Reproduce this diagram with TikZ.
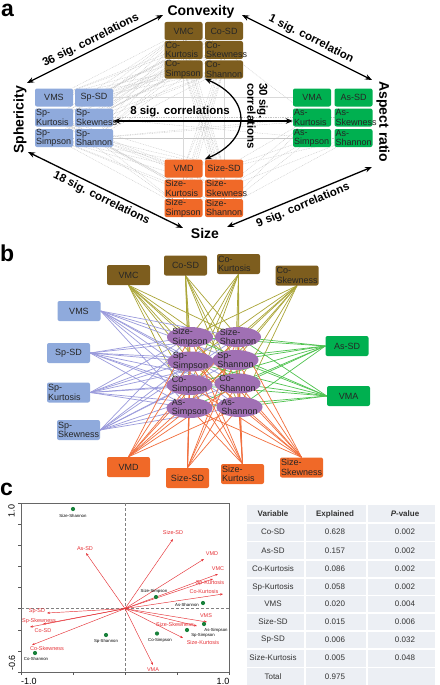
\documentclass[tikz,border=0pt]{standalone}
\usepackage{fontspec}
\setmainfont{Liberation Sans}
\usetikzlibrary{arrows.meta,shapes.geometric,backgrounds}
\definecolor{cbrown}{RGB}{125,93,30}
\definecolor{cblue}{RGB}{143,170,220}
\definecolor{cgreen}{RGB}{0,176,80}
\definecolor{corange}{RGB}{240,105,40}
\definecolor{cpurple}{RGB}{160,112,180}
\definecolor{lolive}{RGB}{170,165,55}
\definecolor{lblue}{RGB}{155,155,220}
\definecolor{lgreen}{RGB}{80,195,80}
\definecolor{lorange}{RGB}{242,110,60}
\definecolor{cred}{RGB}{230,50,55}
\definecolor{cdot}{RGB}{25,130,60}
\definecolor{tabbg}{RGB}{236,239,244}
\tikzset{
 abox/.style={rounded corners=2pt, text width=36pt, inner xsep=1pt, inner ysep=0pt, minimum height=18pt, font=\fontsize{9}{9.5}\selectfont, text=black!85},
 one/.style={align=center},
 two/.style={align=left},
 bbox/.style={abox, text width=41pt, minimum height=20pt},
 ell/.style={ellipse, fill=cpurple, minimum width=46pt, minimum height=20pt, inner sep=0pt},
 etxt/.style={font=\fontsize{9}{9.5}\selectfont, align=left, text=black!85, inner sep=0pt},
 bigarrow/.style={line width=1.3pt, {Stealth[length=7pt,width=5.5pt]}-{Stealth[length=7pt,width=5.5pt]}},
 cat/.style={font=\fontsize{14}{16}\selectfont\bfseries},
 sig/.style={font=\fontsize{11.5}{12}\selectfont\bfseries},
 plet/.style={font=\fontsize{23}{24}\selectfont\bfseries, anchor=base west, inner sep=0pt},
 gdot/.style={gray!45, line width=0.4pt, dash pattern=on 0.8pt off 0.9pt},
 gsol/.style={gray!30, line width=0.5pt},
 redarr/.style={cred, line width=0.45pt, -{Stealth[length=3pt,width=2.2pt]}},
 rlab/.style={text=cred, font=\fontsize{5.5}{6}\selectfont, inner sep=0.5pt},
 klab/.style={text=black, font=\fontsize{4.3}{5}\selectfont, inner sep=0.5pt},
 gpt/.style={circle, fill=cdot, inner sep=0pt, minimum size=4.2pt},
 tk/.style={gray!70!black, line width=0.5pt},
 ttxt/.style={font=\fontsize{8}{9}\selectfont, text=black!80, inner sep=0pt},
 thead/.style={ttxt, font=\fontsize{8}{9}\selectfont\bfseries},
}
\begin{document}
\begin{tikzpicture}[x=1pt,y=-1pt]
\useasboundingbox (0,0) rectangle (439,685);
\begin{scope}[on background layer]
\fill[white] (0,0) rectangle (439,685);
\end{scope}

% ================= panel a =================
\node[plet] (la) at (1,17) {a};
\node[cat] (conv) at (201,12) {Convexity};
\node[cat, rotate=90] (sph) at (20,120) {Sphericity};
\node[cat, rotate=-90] (asp) at (383,122) {Aspect ratio};
\node[cat] (size) at (205,233) {Size};

% convexity boxes
\node[abox,one,fill=cbrown] (aVMC) at (183.5,31) {VMC};
\node[abox,one,fill=cbrown] (aCoSD) at (224,31) {Co-SD};
\node[abox,two,fill=cbrown] (aCoKu) at (183.5,50) {Co-\\Kurtosis};
\node[abox,two,fill=cbrown] (aCoSk) at (224,50) {Co-\\Skewness};
\node[abox,two,fill=cbrown] (aCoSi) at (183.5,69.5) {Co-\\Simpson};
\node[abox,two,fill=cbrown] (aCoSh) at (224,69.5) {Co-\\Shannon};
% sphericity boxes
\node[abox,one,fill=cblue] (aVMS) at (54,97.5) {VMS};
\node[abox,one,fill=cblue] (aSpSD) at (94,97.5) {Sp-SD};
\node[abox,two,fill=cblue] (aSpKu) at (54,117.5) {Sp-\\Kurtosis};
\node[abox,two,fill=cblue] (aSpSk) at (94,117.5) {Sp-\\Skewness};
\node[abox,two,fill=cblue] (aSpSi) at (54,138) {Sp-\\Simpson};
\node[abox,two,fill=cblue] (aSpSh) at (94,138) {Sp-\\Shannon};
% aspect ratio boxes
\node[abox,one,fill=cgreen] (aVMA) at (312,97.5) {VMA};
\node[abox,one,fill=cgreen] (aAsSD) at (353.5,97.5) {As-SD};
\node[abox,two,fill=cgreen] (aAsKu) at (312,117.5) {As-\\Kurtosis};
\node[abox,two,fill=cgreen] (aAsSk) at (353.5,117.5) {As-\\Skewness};
\node[abox,two,fill=cgreen] (aAsSi) at (312,138) {As-\\Simpson};
\node[abox,two,fill=cgreen] (aAsSh) at (353.5,138) {As-\\Shannon};
% size boxes
\node[abox,one,fill=corange] (aVMD) at (183.5,168.5) {VMD};
\node[abox,one,fill=corange] (aSzSD) at (224,168.5) {Size-SD};
\node[abox,two,fill=corange] (aSzKu) at (183.5,188.5) {Size-\\Kurtosis};
\node[abox,two,fill=corange] (aSzSk) at (224,188.5) {Size-\\Skewness};
\node[abox,two,fill=corange] (aSzSi) at (183.5,208) {Size-\\Simpson};
\node[abox,two,fill=corange] (aSzSh) at (224,208) {Size-\\Shannon};

\begin{scope}[on background layer]
\foreach \c in {aVMC,aCoSD,aCoKu,aCoSk,aCoSi,aCoSh}
  \foreach \s in {aVMS,aSpSD,aSpKu,aSpSk,aSpSi,aSpSh}
    \draw[gdot] (\c) -- (\s);
\foreach \c in {aVMC,aCoKu,aCoSk,aCoSi,aCoSh}
  \foreach \s in {aVMD,aSzSD,aSzKu,aSzSk,aSzSi,aSzSh}
    \draw[gdot] (\c) -- (\s);
\foreach \p in {aSpKu,aSpSi,aSpSh}
  \foreach \s in {aVMD,aSzSD,aSzKu,aSzSk,aSzSi,aSzSh}
    \draw[gdot] (\p) -- (\s);
\foreach \s in {aSzSD,aSzSk,aSzSh}
  \foreach \q in {aAsKu,aAsSi,aAsSh}
    \draw[gdot] (\s) -- (\q);
\foreach \p in {aSpSk,aSpSh}
  \foreach \q in {aAsKu,aAsSk,aAsSi}
    \draw[gdot] (\p) -- (\q);
\draw[gdot] (aSpSi) -- (aAsSh);
\draw[gdot] (aCoSk) -- (aAsKu);
\draw[gsol] (aSpSD) -- (aVMA);
\draw[gsol] (aCoSi) -- (aVMD);
\draw[gsol] (aCoSh) -- (aSzSD);
\end{scope}

% big arrows
\coordinate (e1a) at (27,83);   \coordinate (e1b) at (163,15);
\coordinate (e2a) at (242,15);  \coordinate (e2b) at (372,80);
\coordinate (e3a) at (28,152);  \coordinate (e3b) at (183,228);
\coordinate (e4a) at (227,227); \coordinate (e4b) at (372,167);
\draw[bigarrow] (e1a) -- node[sig, sloped, above] (s36) {36 sig. correlations} (e1b);
\draw[bigarrow] (e2a) -- node[sig, sloped, above] (s1) {1 sig. correlation} (e2b);
\draw[bigarrow] (e3a) -- node[sig, sloped, below] (s18) {18 sig. correlations} (e3b);
\draw[bigarrow] (e4a) -- node[sig, sloped, below] (s9) {9 sig. correlations} (e4b);
\draw[bigarrow] ([yshift=-3.5pt]aSpSk.east) -- ([yshift=-3.5pt]aAsKu.west);
\node[sig] (s8) at (180,112) {8 sig. correlations};
\draw[bigarrow] (aCoSh.south west) .. controls +(47,20) and +(47,-20) .. (aSzSD.north west);
\node[sig, rotate=-90, align=left, inner sep=0pt] (s30) at (257.5,116) {30 sig.\\correlations};

% ================= panel b =================
\node[plet] (lb) at (0,261) {b};
\node[bbox,one,fill=cbrown] (bVMC) at (128.5,275) {VMC};
\node[bbox,one,fill=cbrown] (bCoSD) at (185.5,265.5) {Co-SD};
\node[bbox,two,fill=cbrown] (bCoKu) at (238.5,264) {Co-\\Kurtosis};
\node[bbox,two,fill=cbrown] (bCoSk) at (297,275.5) {Co-\\Skewness};
\node[bbox,one,fill=cblue] (bVMS) at (79,311) {VMS};
\node[bbox,one,fill=cblue] (bSpSD) at (68.5,353) {Sp-SD};
\node[bbox,two,fill=cblue] (bSpKu) at (68.5,392.5) {Sp-\\Kurtosis};
\node[bbox,two,fill=cblue] (bSpSk) at (78.5,430) {Sp-\\Skewness};
\node[bbox,one,fill=cgreen] (bAsSD) at (347,346) {As-SD};
\node[bbox,one,fill=cgreen] (bVMA) at (348.5,396) {VMA};
\node[bbox,one,fill=corange] (bVMD) at (128.5,467) {VMD};
\node[bbox,one,fill=corange] (bSzSD) at (187.5,478) {Size-SD};
\node[bbox,two,fill=corange] (bSzKu) at (242.5,474) {Size-\\Kurtosis};
\node[bbox,two,fill=corange] (bSzSk) at (301.5,467.5) {Size-\\Skewness};

\node[ell] (eSzSi) at (190,337) {};
\node[ell] (eSzSh) at (238,337) {};
\node[ell] (eSpSi) at (190.5,361.5) {};
\node[ell] (eSpSh) at (235.5,360) {};
\node[ell] (eCoSi) at (189.5,385) {};
\node[ell] (eCoSh) at (237.5,383.5) {};
\node[ell] (eAsSi) at (189.5,408) {};
\node[ell] (eAsSh) at (239.5,407) {};
\node[etxt] (tSzSi) at (eSzSi) {Size-\\Simpson};
\node[etxt] (tSzSh) at (eSzSh) {Size-\\Shannon};
\node[etxt] (tSpSi) at (eSpSi) {Sp-\\Simpson};
\node[etxt] (tSpSh) at (eSpSh) {Sp-\\Shannon};
\node[etxt] (tCoSi) at (eCoSi) {Co-\\Simpson};
\node[etxt] (tCoSh) at (eCoSh) {Co-\\Shannon};
\node[etxt] (tAsSi) at (eAsSi) {As-\\Simpson};
\node[etxt] (tAsSh) at (eAsSh) {As-\\Shannon};

\begin{scope}[on background layer]
\foreach \b in {bVMC,bCoSD,bCoKu,bCoSk}
  \foreach \e in {eSzSi,eSzSh,eSpSi,eSpSh,eCoSi,eCoSh,eAsSi,eAsSh}
    \draw[lolive, line width=0.7pt] (\b.south) -- (\e.center);
\foreach \b in {bVMS,bSpSD,bSpKu,bSpSk}
  \foreach \e in {eSzSi,eSzSh,eSpSi,eSpSh,eCoSi,eCoSh,eAsSi,eAsSh}
    \draw[lblue, line width=0.7pt] (\b.east) -- (\e.center);
\foreach \b in {bAsSD,bVMA}
  \foreach \e in {eSzSi,eSzSh,eSpSi,eSpSh,eCoSi,eCoSh,eAsSi,eAsSh}
    \draw[lgreen, line width=0.7pt] (\b.west) -- (\e.center);
\foreach \b in {bVMD,bSzSD,bSzKu,bSzSk}
  \foreach \e in {eSzSi,eSzSh,eSpSi,eSpSh,eCoSi,eCoSh,eAsSi,eAsSh}
    \draw[lorange, line width=0.7pt] (\b.north) -- (\e.center);
\end{scope}

% ================= panel c =================
\node[plet] (lc) at (0,495) {c};
\draw[gray!80!black, line width=0.6pt] (21,503) rectangle (229,672);
\foreach \k in {0,...,8} \draw[tk] (21,503+21.125*\k) -- (18,503+21.125*\k);
\foreach \k in {0,...,4} \draw[tk] (21+52*\k,672) -- (21+52*\k,675);
\draw[gray, line width=0.5pt, dash pattern=on 3pt off 2pt] (125,503) -- (125,672);
\draw[gray, line width=0.5pt, dash pattern=on 3pt off 2pt] (21,608.6) -- (229,608.6);
\node[font=\fontsize{9}{10}\selectfont, rotate=90, inner sep=0pt] (y1) at (11.5,511) {1.0};
\node[font=\fontsize{9}{10}\selectfont, rotate=90, inner sep=0pt] (y2) at (12,663) {-0.6};
\node[font=\fontsize{9}{10}\selectfont, inner sep=0pt] (x1) at (29,681) {-1.0};
\node[font=\fontsize{9}{10}\selectfont, inner sep=0pt] (x2) at (223,681) {1.0};

\coordinate (O) at (125,608.6);
\foreach \n/\x/\y in {SzSD/173/539, VMD/204/559, VMC/218/574, SpKu/213/579, CoKu/223/594, VMS/207/622, SzSk/197/626, SzKu/183/638, VMA/153/665, AsSD/86/553, SpSD/47/613, SpSk/43/624, CoSD/30/627, CoSk/32/645}
  {\coordinate (t\n) at (\x,\y); \draw[redarr] (O) -- (t\n);}
\node[rlab] (rSzSD) at (173,533) {Size-SD};
\node[rlab] (rVMD) at (212,554) {VMD};
\node[rlab] (rVMC) at (218,568.5) {VMC};
\node[rlab] (rSpKu) at (210,583.5) {Sp-Kurtosis};
\node[rlab] (rCoKu) at (204,591.5) {Co-Kurtosis};
\node[rlab] (rVMS) at (206,616) {VMS};
\node[rlab] (rSzSk) at (175,624.5) {Size-Skewness};
\node[rlab] (rSzKu) at (203,643) {Size-Kurtosis};
\node[rlab] (rVMA) at (153,670) {VMA};
\node[rlab] (rAsSD) at (85,549) {As-SD};
\node[rlab] (rSpSD) at (37,611) {Sp-SD};
\node[rlab] (rSpSk) at (39,621) {Sp-Skewness};
\node[rlab] (rCoSD) at (43,631) {Co-SD};
\node[rlab] (rCoSk) at (47,649) {Co-Skewness};

\node[gpt] (pSzSh) at (73,509) {};
\node[gpt] (pSzSi) at (156,597) {};
\node[gpt] (pAsSh) at (203,603) {};
\node[gpt] (pAsSi) at (204,624) {};
\node[gpt] (pSpSi) at (187,630) {};
\node[gpt] (pCoSi) at (157,633.5) {};
\node[gpt] (pSpSh) at (106,635) {};
\node[gpt] (pCoSh) at (35,653) {};
\node[klab] (kSzSh) at (73,515.5) {Size-Shannon};
\node[klab] (kSzSi) at (154,591.5) {Size-Simpson};
\node[klab] (kAsSh) at (187,605) {As-Shannon};
\node[klab] (kAsSi) at (216,630) {As-Simpson};
\node[klab] (kSpSi) at (203,635) {Sp-Simpson};
\node[klab] (kCoSi) at (160,640) {Co-Simpson};
\node[klab] (kSpSh) at (106,641) {Sp-Shannon};
\node[klab] (kCoSh) at (36,659) {Co-Shannon};

% table
\fill[tabbg] (247,505) rectangle (435,685);
\foreach \yy in {523,541.5,560,578,595.5,613,631,649,667.5}
  \draw[white, line width=1.3pt] (247,\yy) -- (435,\yy);
\draw[white, line width=1.3pt] (305,505) -- (305,685);
\draw[white, line width=1.3pt] (367,505) -- (367,685);
\node[thead] (h1) at (273,514) {Variable};
\node[thead] (h2) at (335,514) {Explained};
\node[thead] (h3) at (405,514) {\textit{P}-value};
\foreach \i/\v/\e/\p/\yy in {1/Co-SD/0.628/0.002/532, 2/As-SD/0.157/0.002/551, 3/Co-Kurtosis/0.086/0.002/569, 4/Sp-Kurtosis/0.058/0.002/587, 5/VMS/0.020/0.004/604, 6/Size-SD/0.015/0.006/622, 7/Sp-SD/0.006/0.032/640, 8/Size-Kurtosis/0.005/0.048/658}
{
  \node[ttxt] (v\i) at (273,\yy) {\v};
  \node[ttxt] (x\i) at (335,\yy) {\e};
  \node[ttxt] (p\i) at (405,\yy) {\p};
}
\node[ttxt] (vT) at (273,677) {Total};
\node[ttxt] (xT) at (335,677) {0.975};
\end{tikzpicture}
\end{document}
